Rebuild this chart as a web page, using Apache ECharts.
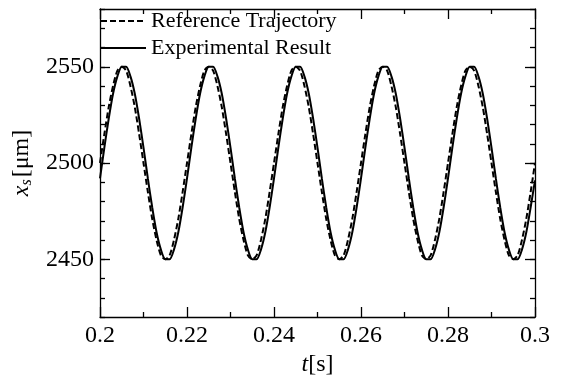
<!DOCTYPE html>
<html>
<head>
<meta charset="utf-8">
<script src="https://cdn.jsdelivr.net/npm/echarts@6/dist/echarts.min.js"></script>
<style>
  html, body { margin: 0; padding: 0; background: #fff; }
  #chart { width: 561px; height: 382px; }
</style>
</head>
<body>
<div id="chart"></div>
<script>
// sample times [s]
const times = [
  0.200, 0.201, 0.202, 0.203, 0.204, 0.205, 0.206, 0.207, 0.208, 0.209,
  0.210, 0.211, 0.212, 0.213, 0.214, 0.215, 0.216, 0.217, 0.218, 0.219,
  0.220, 0.221, 0.222, 0.223, 0.224, 0.225, 0.226, 0.227, 0.228, 0.229,
  0.230, 0.231, 0.232, 0.233, 0.234, 0.235, 0.236, 0.237, 0.238, 0.239,
  0.240, 0.241, 0.242, 0.243, 0.244, 0.245, 0.246, 0.247, 0.248, 0.249,
  0.250, 0.251, 0.252, 0.253, 0.254, 0.255, 0.256, 0.257, 0.258, 0.259,
  0.260, 0.261, 0.262, 0.263, 0.264, 0.265, 0.266, 0.267, 0.268, 0.269,
  0.270, 0.271, 0.272, 0.273, 0.274, 0.275, 0.276, 0.277, 0.278, 0.279,
  0.280, 0.281, 0.282, 0.283, 0.284, 0.285, 0.286, 0.287, 0.288, 0.289,
  0.290, 0.291, 0.292, 0.293, 0.294, 0.295, 0.296, 0.297, 0.298, 0.299,
  0.300
];

// reference trajectory x_s [um]
const reference = [
  2500, 2515, 2529, 2540, 2548, 2550, 2548, 2540, 2529, 2515, 2500, 2485, 2471, 2460, 2452, 2450, 2452, 2460, 2471, 2485,
  2500, 2515, 2529, 2540, 2548, 2550, 2548, 2540, 2529, 2515, 2500, 2485, 2471, 2460, 2452, 2450, 2452, 2460, 2471, 2485,
  2500, 2515, 2529, 2540, 2548, 2550, 2548, 2540, 2529, 2515, 2500, 2485, 2471, 2460, 2452, 2450, 2452, 2460, 2471, 2485,
  2500, 2515, 2529, 2540, 2548, 2550, 2548, 2540, 2529, 2515, 2500, 2485, 2471, 2460, 2452, 2450, 2452, 2460, 2471, 2485,
  2500, 2515, 2529, 2540, 2548, 2550, 2548, 2540, 2529, 2515, 2500, 2485, 2471, 2460, 2452, 2450, 2452, 2460, 2471, 2485,
  2500
];

// experimental result x_s [um] (lags the reference slightly)
const experimental = [
  2492, 2508, 2523, 2536, 2545, 2550, 2550, 2545, 2536, 2523, 2508, 2492, 2477, 2464, 2455, 2450, 2450, 2455, 2464, 2477,
  2492, 2508, 2523, 2536, 2545, 2550, 2550, 2545, 2536, 2523, 2508, 2492, 2477, 2464, 2455, 2450, 2450, 2455, 2464, 2477,
  2492, 2508, 2523, 2536, 2545, 2550, 2550, 2545, 2536, 2523, 2508, 2492, 2477, 2464, 2455, 2450, 2450, 2455, 2464, 2477,
  2492, 2508, 2523, 2536, 2545, 2550, 2550, 2545, 2536, 2523, 2508, 2492, 2477, 2464, 2455, 2450, 2450, 2455, 2464, 2477,
  2492, 2508, 2523, 2536, 2545, 2550, 2550, 2545, 2536, 2523, 2508, 2492, 2477, 2464, 2455, 2450, 2450, 2455, 2464, 2477,
  2491
];

// labelled (long) ticks on the x_s axis
const yMajorTicks = [2450, 2500, 2550];

const FONT = '"Liberation Serif", "Times New Roman", serif';

const chart = echarts.init(document.getElementById('chart'));

const pair = (ys) => times.map((t, i) => [t, ys[i]]);

// shared axis styling
const tickLine = { color: '#000', width: 1.3 };
const axisLine = { show: true, onZero: false, lineStyle: tickLine };
const hidden = { show: false };

const xBase = {
  type: 'value', min: 0.2, max: 0.3, interval: 0.02,
  splitLine: hidden, axisLine,
  axisTick: { show: true, inside: true, length: 10, lineStyle: tickLine },
  minorTick: { show: true, splitNumber: 2, length: 5, lineStyle: tickLine }
};
// fine ticks every 10 um
const yMinor = {
  type: 'value', min: 2420, max: 2580, interval: 10,
  splitLine: hidden, axisLine,
  axisTick: { show: true, inside: true, length: 5, lineStyle: tickLine }
};
// long ticks at the labelled values
const yMajor = {
  type: 'value', min: 2420, max: 2580,
  splitLine: hidden, axisLine: hidden, axisLabel: hidden,
  axisTick: { show: true, inside: true, length: 10, lineStyle: tickLine, customValues: yMajorTicks }
};

const option = {
  animation: false,
  backgroundColor: '#fff',
  grid: { left: 100, right: 26, top: 9, bottom: 65 },
  legend: {
    orient: 'vertical',
    left: 100,
    top: 10,
    padding: 0,
    itemWidth: 45,
    itemHeight: 14,
    itemGap: 5,
    itemStyle: { opacity: 0 },
    textStyle: { fontFamily: FONT, fontSize: 22, color: '#000' },
    data: ['Reference Trajectory', 'Experimental Result']
  },
  xAxis: [
    {
      ...xBase,
      position: 'bottom',
      axisLabel: { fontFamily: FONT, fontSize: 24, color: '#000', margin: 7 },
      name: '{i|t}[s]',
      nameLocation: 'middle',
      nameGap: 32,
      nameTextStyle: {
        fontFamily: FONT, fontSize: 24, color: '#000',
        rich: { i: { fontFamily: FONT, fontSize: 24, fontStyle: 'italic', color: '#000' } }
      }
    },
    { ...xBase, position: 'top', axisLabel: hidden }
  ],
  yAxis: [
    {
      ...yMinor,
      position: 'left',
      axisLabel: {
        fontFamily: FONT, fontSize: 24, color: '#000', margin: 6,
        formatter: (v) => (yMajorTicks.includes(v) ? String(v) : '')
      },
      name: '{i|x}{s|s}[μm]',
      nameLocation: 'middle',
      nameRotate: 90,
      nameGap: 63,
      nameTextStyle: {
        fontFamily: FONT, fontSize: 24, color: '#000',
        rich: {
          i: { fontFamily: FONT, fontSize: 24, fontStyle: 'italic', color: '#000' },
          s: { fontFamily: FONT, fontSize: 16, fontStyle: 'italic', color: '#000', padding: [10, 2, 0, 0] }
        }
      }
    },
    { ...yMinor, position: 'right', axisLabel: hidden },
    { ...yMajor, position: 'left' },
    { ...yMajor, position: 'right' }
  ],
  series: [
    {
      name: 'Reference Trajectory',
      type: 'line',
      data: pair(reference),
      symbol: 'none',
      smooth: 0.25,
      color: '#000',
      lineStyle: { color: '#000', width: 2, type: [6, 3] },
      z: 3
    },
    {
      name: 'Experimental Result',
      type: 'line',
      data: pair(experimental),
      symbol: 'none',
      smooth: 0.25,
      color: '#000',
      lineStyle: { color: '#000', width: 2, type: 'solid' },
      z: 2
    }
  ]
};

chart.setOption(option);
</script>
</body>
</html>
